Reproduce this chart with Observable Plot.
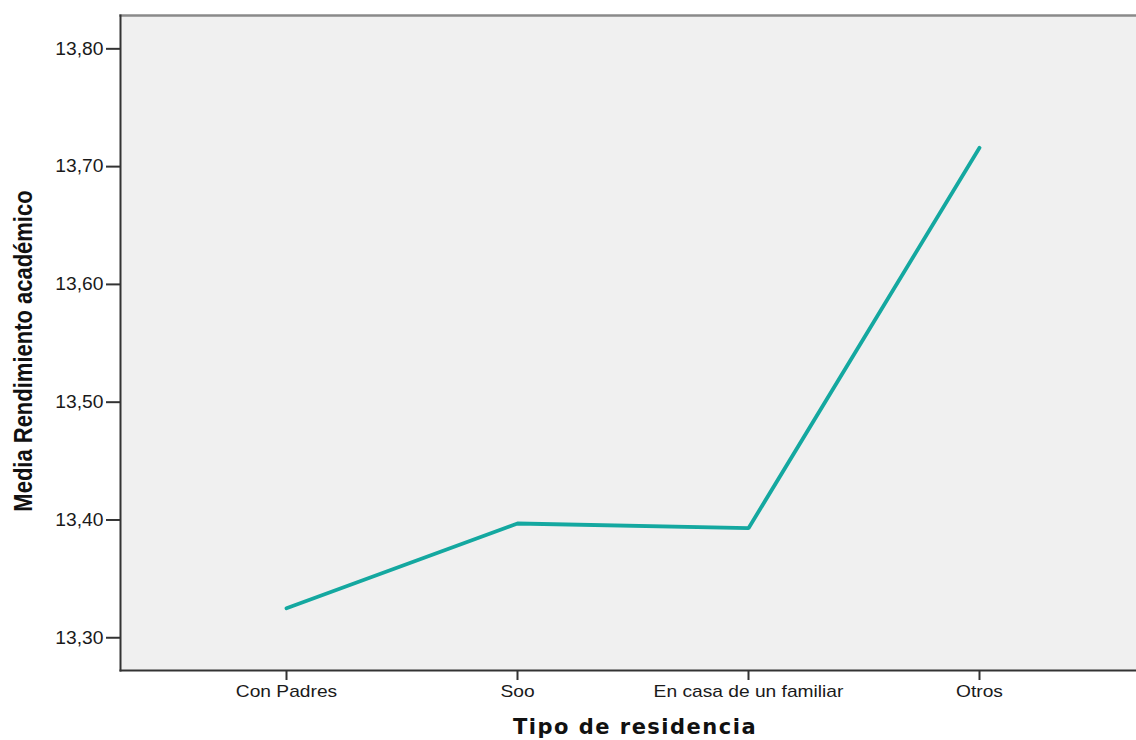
<!DOCTYPE html>
<html>
<head>
<meta charset="utf-8">
<script src="https://cdn.jsdelivr.net/npm/d3@7"></script>
<script src="https://cdn.jsdelivr.net/npm/@observablehq/plot@0.6"></script>
<style>
  html, body { margin: 0; padding: 0; background: #ffffff; overflow: hidden; }
  #chart svg { display: block; }
</style>
</head>
<body>
<div id="chart"></div>
<script>
const categories = ["Con Padres", "Soo", "En casa de un familiar", "Otros"];
const means = [13.325, 13.397, 13.393, 13.716];
const yTicks = [13.30, 13.40, 13.50, 13.60, 13.70, 13.80];
const yDomain = [13.2722, 13.8283];
const xTitle = "Tipo de residencia";
const yTitle = "Media Rendimiento académico";

const data = categories.map((c, i) => ({category: c, mean: means[i]}));
const fmt = d => d.toFixed(2).replace(".", ",");

const chart = Plot.plot({
  width: 1136,
  height: 740,
  marginLeft: 120,
  marginRight: 0,
  marginTop: 15,
  marginBottom: 70,
  style: {background: "#ffffff", fontFamily: "'Liberation Sans', Arial, sans-serif", color: "#222"},
  x: {type: "point", domain: categories, padding: 0.7186, insetRight: -9, label: null},
  y: {domain: yDomain, label: null},
  marks: [
    Plot.frame({fill: "#f0f0f0", stroke: "none"}),
    Plot.frame({anchor: "top", stroke: "#8a8a8a", strokeWidth: 2.5}),
    Plot.frame({anchor: "left", stroke: "#333333", strokeWidth: 2}),
    Plot.frame({anchor: "bottom", stroke: "#333333", strokeWidth: 2}),
    Plot.axisY({ticks: yTicks, tickFormat: fmt, tickSize: 14, tickPadding: 3, fontSize: 18, stroke: "#333", strokeWidth: 2, fill: "#1a1a1a", label: null}),
    Plot.axisX({tickSize: 10, tickPadding: 5, fontSize: 16, stroke: "#333", strokeWidth: 2, fill: "#1a1a1a", label: null}),
    Plot.line(data, {x: "category", y: "mean", stroke: "#14a8a0", strokeWidth: 3.8, strokeLinejoin: "miter"})
  ]
});

document.getElementById("chart").appendChild(chart);

const svg = d3.select(chart);
// horizontally widen the x tick labels as in the reference
svg.selectAll('g[aria-label="x-axis tick label"] text').each(function() {
  const t = d3.select(this);
  const tr = t.attr("transform") || "";
  t.attr("transform", tr + " scale(1.2,1)");
});
svg.selectAll('g[aria-label="y-axis tick label"] text').each(function() {
  const t = d3.select(this);
  const tr = t.attr("transform") || "";
  t.attr("transform", tr + " scale(1.07,1)");
});

// axis titles
svg.append("text")
  .attr("transform", "translate(32,351) scale(1.2,1) rotate(-90)")
  .attr("text-anchor", "middle")
  .attr("font-family", "'Liberation Sans', Arial, sans-serif")
  .attr("font-weight", "bold")
  .attr("font-size", 22)
  .attr("fill", "#111")
  .text(yTitle);

svg.append("text")
  .attr("x", 635)
  .attr("y", 734)
  .attr("text-anchor", "middle")
  .attr("font-family", "'DejaVu Sans', sans-serif")
  .attr("font-weight", "bold")
  .attr("font-size", 21)
  .attr("letter-spacing", "1.5px")
  .attr("fill", "#111")
  .text(xTitle);
</script>
</body>
</html>
